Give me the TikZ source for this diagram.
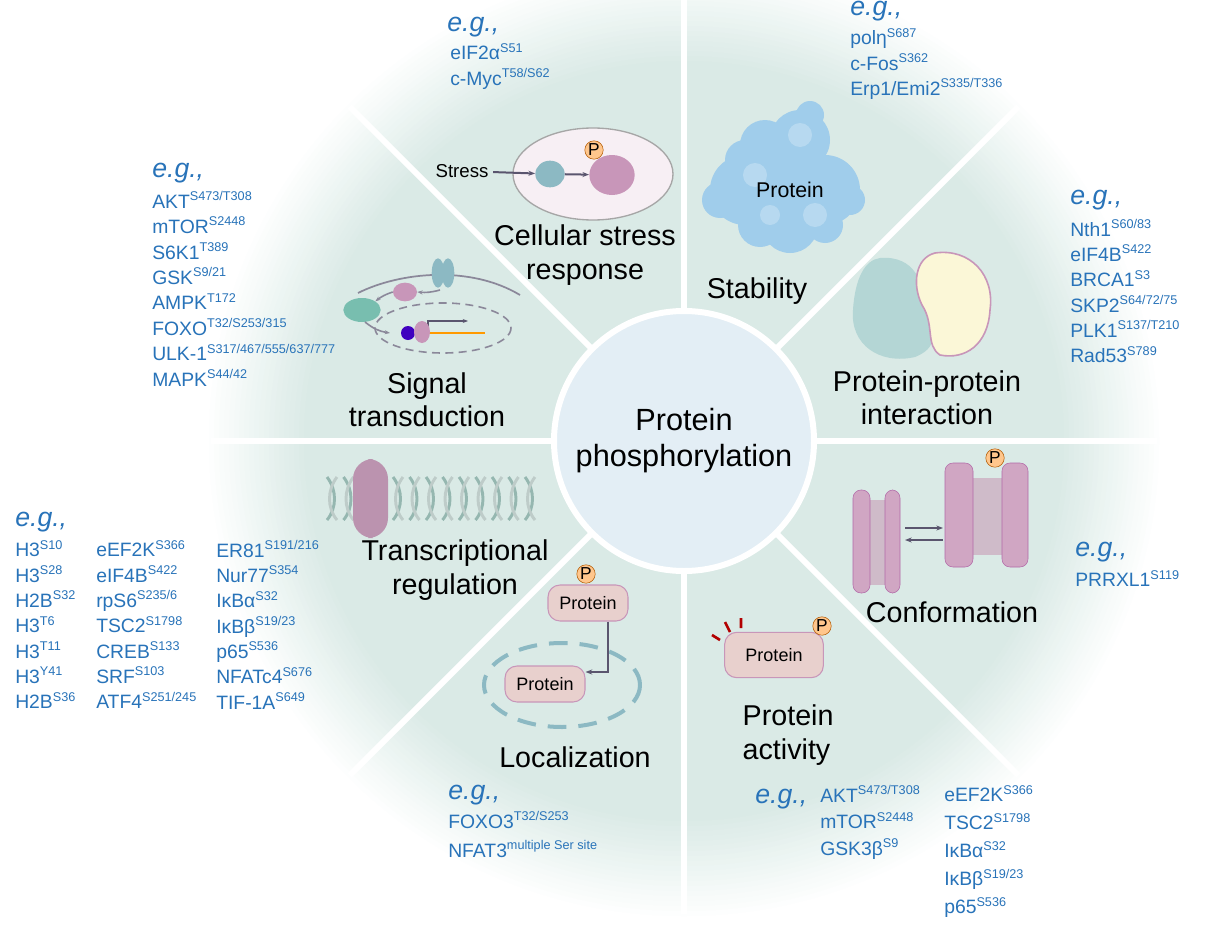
\documentclass[tikz,border=0pt]{standalone}
\usepackage{fontspec}
\setmainfont{Liberation Sans}
\usetikzlibrary{arrows.meta,shapes.geometric}
\definecolor{bgT}{RGB}{218,234,230}
\definecolor{cen}{RGB}{227,238,245}
\definecolor{egb}{RGB}{40,115,185}
\definecolor{pinkc}{RGB}{200,150,185}
\definecolor{tealc}{RGB}{120,190,175}
\definecolor{bluec}{RGB}{140,185,195}
\definecolor{protb}{RGB}{232,208,205}
\definecolor{cloud}{RGB}{160,205,235}
\definecolor{arrc}{RGB}{90,85,110}
\newcommand\ps[2]{#1\raisebox{0.75ex}{\fontsize{9.5}{9.5}\selectfont #2}}
\tikzset{
 lab/.style={font=\fontsize{21.5}{25}\selectfont,align=center,text=black},
 eglist/.style={font=\fontsize{14.5}{19}\selectfont,text=egb,align=left,anchor=north west,inner sep=0pt},
 egt/.style={font=\fontsize{20}{22}\selectfont\itshape,text=egb,anchor=west,inner sep=0pt},
 spoke/.style={white,line width=4.5pt},
 pcirc/.style={circle,draw=orange!70!black,fill=orange!45,inner sep=0.5pt,font=\fontsize{13}{13}\selectfont},
 protbox/.style={rounded corners=9pt,draw=pinkc,fill=protb,line width=0.8pt,minimum width=60pt,minimum height=27pt,font=\fontsize{13.5}{13.5}\selectfont},
 arr/.style={arrc,line width=1.5pt,-{Stealth[length=5pt]}},
 cyl/.style={rounded corners=6pt,fill=pinkc!85,draw=pinkc!70!violet}
}
\begin{document}
\begin{tikzpicture}[x=0.75pt,y=-0.75pt]
\useasboundingbox (0,0) rectangle (1211,928);
\fill[white] (0,0) rectangle (1211,928);
\coordinate (C) at (684,441);
\foreach \i in {0,...,20}{\fill[bgT!\the\numexpr\i*5\relax!white] (C) circle ({480-5*\i});}
\foreach \a in {0,45,...,315}{\draw[spoke] (C) ++(\a:128) -- ++(\a:345);}
\node[circle,fill=cen,draw=white,line width=4.5pt,minimum size=260*0.75pt,font=\fontsize{23}{27}\selectfont,align=center] (center) at (C) {Protein\\phosphorylation};

\node[lab] (l1) at (585,255) {Cellular stress\\response};
\node[lab] (l2) at (757,291) {Stability};
\node[lab] (l3) at (927,398) {Protein-protein\\interaction};
\node[lab] (l4) at (427,400) {Signal\\transduction};
\node[lab] (l5) at (455,570) {Transcriptional\\regulation};
\node[lab] (l6) at (952,612) {Conformation};
\node[lab,align=left,anchor=west] (l8) at (738,735) {Protein\\activity};
\node[lab] (l7) at (575,757) {Localization};

\draw[gray!70,fill=pinkc!15,line width=1pt] (593,174) ellipse (80 and 46);
\node[font=\fontsize{14}{14}\selectfont] (stress) at (462,171) {Stress};
\node[ellipse,fill=bluec,minimum width=22pt,minimum height=20pt] (sb) at (550,174) {};
\node[ellipse,fill=pinkc,minimum width=34pt,minimum height=30pt] (sp) at (612,175) {};
\draw[arr] (stress) -- (sb);
\draw[arr] (sb) -- (sp);
\node[pcirc] (p1) at (594,150) {P};

\foreach \x/\y/\r in {785/180/45,745/190/35,825/190/35,790/225/28,760/225/22,825/225/18,800/140/30,765/145/25,810/115/14,850/200/15,720/200/18,745/160/20}{
 \fill[cloud] (\x,\y) circle (\r);}
\foreach \x/\y/\r in {800/135/12,755/175/12,815/215/12,770/215/10}{\fill[white,opacity=0.25] (\x,\y) circle (\r);}
\node[font=\fontsize{16}{16}\selectfont] (prot) at (790,190) {Protein};

\fill[tealc!50!bluec!60] (880,258) .. controls (915,255) and (925,285) .. (920,300) .. controls (930,325) and (945,345) .. (915,357) .. controls (880,365) and (850,345) .. (853,310) .. controls (855,278) and (865,260) .. (880,258);
\draw[pinkc,fill=protb!60!yellow!30,line width=1.2pt] (935,253) .. controls (970,248) and (995,275) .. (990,310) .. controls (988,345) and (965,360) .. (940,355) .. controls (925,345) and (935,325) .. (922,305) .. controls (912,285) and (915,258) .. (935,253);

\draw[arrc!70,line width=1.3pt] (358,293) .. controls (400,272) and (470,265) .. (520,295);
\node[ellipse,fill=bluec,minimum width=9pt,minimum height=22pt] at (438,273) {};
\node[ellipse,fill=bluec,minimum width=9pt,minimum height=22pt] (rec) at (448,273) {};
\node[ellipse,fill=pinkc,minimum width=18pt,minimum height=14pt] (sp2) at (405,292) {};
\node[ellipse,fill=tealc,minimum width=28pt,minimum height=18pt] (st2) at (362,310) {};
\draw[arrc!70,line width=1.2pt,-{Stealth[length=4pt]}] (440,290) to[bend left=10] (sp2.east);
\draw[arrc!70,line width=1.2pt,-{Stealth[length=4pt]}] (sp2.west) to[bend right=10] (st2.north east);
\draw[arrc!70,line width=1.2pt,dash pattern=on 6pt off 4pt] (443,328) ellipse (68 and 25);
\draw[arrc!70,line width=1.2pt,-{Stealth[length=4pt]}] (365,322) to[bend right=15] (390,333);
\draw[orange!80!yellow,line width=1.5pt] (425,333) -- (485,333);
\draw[arrc,line width=1.2pt,-{Stealth[length=4pt]}] (428,333) -- (428,321) -- (468,321);
\fill[blue!50!violet] (408,333) circle (7);
\fill[pinkc] (422,332) ellipse (8 and 11);

\foreach \k in {0,...,12}{
 \draw[tealc!60!gray!80,line width=2.2pt] ({327+\k*16.5},477) .. controls ({337+\k*16.5},490) and ({337+\k*16.5},508) .. ({327+\k*16.5},520);
 \draw[tealc!40!gray!50,line width=2.2pt] ({337+\k*16.5},477) .. controls ({327+\k*16.5},490) and ({327+\k*16.5},508) .. ({337+\k*16.5},520);}
\fill[pinkc!90!black!90,rounded corners=15pt] (353,459) rectangle (388,538);

\fill[gray!35!pinkc!60] (862,500) rectangle (890,585);
\draw[cyl] (853,490) rectangle (870,593);
\draw[cyl] (885,490) rectangle (900,593);
\fill[gray!35!pinkc!60] (965,478) rectangle (1008,555);
\draw[cyl] (945,463) rectangle (973,567);
\draw[cyl] (1002,463) rectangle (1028,567);
\coordinate (ca1) at (905,528); \coordinate (ca2) at (943,528);
\coordinate (cb1) at (943,540); \coordinate (cb2) at (905,540);
\draw[arr,line width=1.2pt] (ca1) -- (ca2);
\draw[arr,line width=1.2pt] (cb1) -- (cb2);
\node[pcirc] (p3) at (995,458) {P};

\draw[bluec,line width=3pt,dash pattern=on 14pt off 9pt] (562,685) ellipse (78 and 42);
\node[protbox] (pl1) at (588,603) {Protein};
\node[protbox] (pl2) at (545,684) {Protein};
\node[pcirc] (p4) at (586,574) {P};
\draw[arr,line width=1.3pt] (pl1.south -| 608,0) -- (608,672) -- (pl2.east |- 0,672);

\node[protbox,minimum width=74pt,minimum height=34pt] (pa) at (774,655) {Protein};
\node[pcirc] (p5) at (822,626) {P};
\draw[red!70!black,line width=2pt] (712,635) -- (720,640) (725,622) -- (730,632) (741,618) -- (741,628);

\node[egt] at (447,27) {e.g.,};
\node[eglist] at (450,43) {\ps{eIF2α}{S51}\\\ps{c-Myc}{T58/S62}};
\node[egt] at (850,11) {e.g.,};
\node[eglist] at (850,28) {\ps{polη}{S687}\\\ps{c-Fos}{S362}\\\ps{Erp1/Emi2}{S335/T336}};
\node[egt] at (152,173) {e.g.,};
\node[eglist,font=\fontsize{14.5}{19.1}\selectfont] at (152,191) {\ps{AKT}{S473/T308}\\\ps{mTOR}{S2448}\\\ps{S6K1}{T389}\\\ps{GSK}{S9/21}\\\ps{AMPK}{T172}\\\ps{FOXO}{T32/S253/315}\\\ps{ULK-1}{S317/467/555/637/777}\\\ps{MAPK}{S44/42}};
\node[egt] at (1070,200) {e.g.,};
\node[eglist] at (1070,219) {\ps{Nth1}{S60/83}\\\ps{eIF4B}{S422}\\\ps{BRCA1}{S3}\\\ps{SKP2}{S64/72/75}\\\ps{PLK1}{S137/T210}\\\ps{Rad53}{S789}};
\node[egt] at (15,522) {e.g.,};
\node[eglist] at (15,540) {\ps{H3}{S10}\\\ps{H3}{S28}\\\ps{H2B}{S32}\\\ps{H3}{T6}\\\ps{H3}{T11}\\\ps{H3}{Y41}\\\ps{H2B}{S36}};
\node[eglist] at (96,540) {\ps{eEF2K}{S366}\\\ps{eIF4B}{S422}\\\ps{rpS6}{S235/6}\\\ps{TSC2}{S1798}\\\ps{CREB}{S133}\\\ps{SRF}{S103}\\\ps{ATF4}{S251/245}};
\node[eglist] at (216,540) {\ps{ER81}{S191/216}\\\ps{Nur77}{S354}\\\ps{IκBα}{S32}\\\ps{IκBβ}{S19/23}\\\ps{p65}{S536}\\\ps{NFATc4}{S676}\\\ps{TIF-1A}{S649}};
\node[egt] at (1075,552) {e.g.,};
\node[eglist] at (1075,570) {\ps{PRRXL1}{S119}};
\node[egt] at (448,795) {e.g.,};
\node[eglist,font=\fontsize{14.5}{22}\selectfont] at (448,811) {\ps{FOXO3}{T32/S253}\\\ps{NFAT3}{multiple Ser site}};
\node[egt] at (755,799) {e.g.,};
\node[eglist,font=\fontsize{14.5}{20}\selectfont] at (820,785) {\ps{AKT}{S473/T308}\\\ps{mTOR}{S2448}\\\ps{GSK3β}{S9}};
\node[eglist,font=\fontsize{14.5}{21}\selectfont] at (944,785) {\ps{eEF2K}{S366}\\\ps{TSC2}{S1798}\\\ps{IκBα}{S32}\\\ps{IκBβ}{S19/23}\\\ps{p65}{S536}};
\end{tikzpicture}
\end{document}
